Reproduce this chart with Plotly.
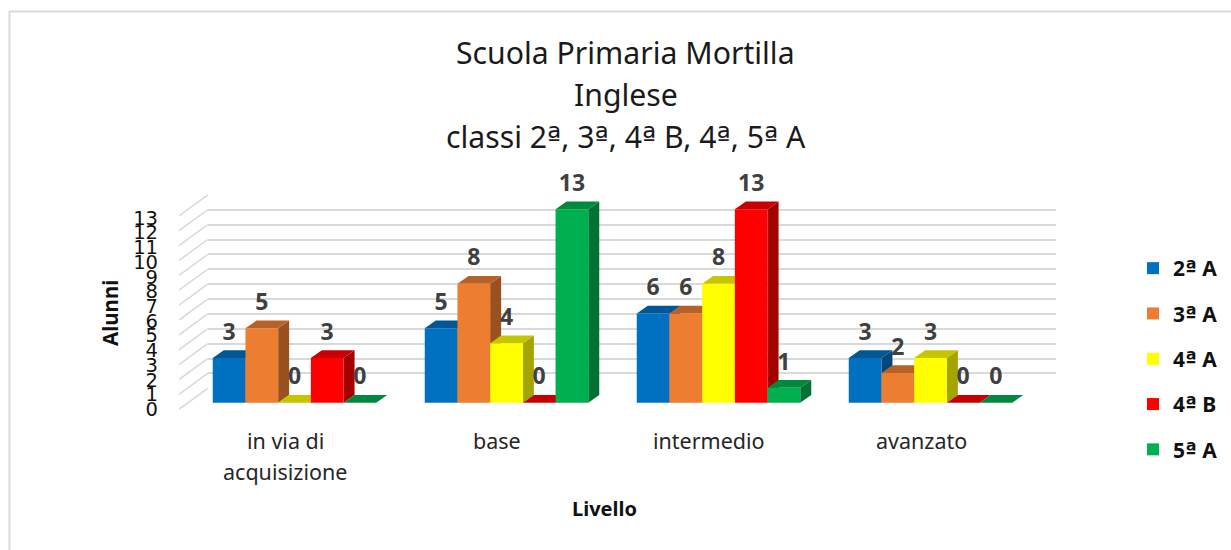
import plotly.graph_objects as go

categories = ["in via di\nacquisizione", "base", "intermedio", "avanzato"]
series_names = ["2ª A", "3ª A", "4ª A", "4ª B", "5ª A"]
v_2a = [3, 5, 6, 3]
v_3a = [5, 8, 6, 2]
v_4a = [0, 4, 8, 3]
v_4b = [3, 0, 13, 0]
v_5a = [0, 13, 1, 0]
values = [v_2a, v_3a, v_4a, v_4b, v_5a]
colors = ["#0070C0", "#ED7D31", "#FFFF00", "#FF0000", "#00B050"]
tick_values = list(range(14))
title_lines = ["Scuola Primaria Mortilla", "Inglese", "classi 2ª, 3ª, 4ª B, 4ª, 5ª A"]

FONT = "Noto Sans"
W, H = 1231, 550
GROUP_PX = 212.0
UNIT_PX = 14.88
FLOOR_PX, BAR0_PX, BACK0_PX = 409.3, 402.7, 388.3
TOP_PX = 170.0
TICK_NUDGE = 2.5
WALL_L, BACK_L, RIGHT = 179.0, 207.7, 1056.0
FIRST_CENTER = 285.0
BAR_W = 32.7 / GROUP_PX
GROUP_SHIFT = (294.5 - 285.0) / GROUP_PX
DX = 11.0 / GROUP_PX
DY = 7.7 / UNIT_PX
LABEL_DY = 24.0 / UNIT_PX


def shade(hex_color, f):
    r, g, b = (int(hex_color[i:i + 2], 16) for i in (1, 3, 5))
    return f"rgb({int(r * f)},{int(g * f)},{int(b * f)})"


def px(y):
    return 1 - y / H


def ord_span(text):
    # The reference draws the ordinal mark underlined; DejaVu Sans has that glyph.
    return text.replace("ª", "<span style=\"font-family:'DejaVu Sans'\">ª</span>")


fig = go.Figure()
x_left = (WALL_L - FIRST_CENTER) / GROUP_PX
x_right = (RIGHT - FIRST_CENTER) / GROUP_PX
y2_low = -(FLOOR_PX - BAR0_PX) / UNIT_PX
y2_high = (BAR0_PX - TOP_PX) / UNIT_PX
shapes = []

fig.add_trace(go.Scatter(x=[0], y=[0], xaxis="x", yaxis="y", mode="markers",
                         marker=dict(opacity=0), showlegend=False, hoverinfo="skip"))

for s, name in enumerate(series_names):
    xs = [i + GROUP_SHIFT + (s - 2) * BAR_W for i in range(len(categories))]
    fig.add_trace(go.Bar(x=xs, y=values[s], width=BAR_W, name=ord_span(name), xaxis="x2", yaxis="y2",
                         marker=dict(color=colors[s], line=dict(width=0)),
                         legendgroup=name))
    for x, v in zip(xs, values[s]):
        l, r = x - BAR_W / 2, x + BAR_W / 2
        side = f"M {r} 0 L {r + DX} {DY} L {r + DX} {v + DY} L {r} {v} Z"
        top = f"M {l} {v} L {l + DX} {v + DY} L {r + DX} {v + DY} L {r} {v} Z"
        for path, f in ((side, 0.65), (top, 0.78)):
            shapes.append(dict(type="path", path=path, xref="x2", yref="y2", layer="between",
                               fillcolor=shade(colors[s], f), line=dict(width=0)))

wall_x, wall_y = [], []
for t in tick_values:
    wall_x += [x_left, x_left + (BACK_L - WALL_L) / GROUP_PX, None]
    wall_y += [t + y2_low, t + (BAR0_PX - BACK0_PX) / UNIT_PX, None]
fig.add_trace(go.Scatter(x=wall_x, y=wall_y, xaxis="x2", yaxis="y2", mode="lines",
                         line=dict(color="#D9D9D9", width=1.5), showlegend=False, hoverinfo="skip"))

for s, name in enumerate(series_names):
    xs = [i + GROUP_SHIFT + (s - 2) * BAR_W for i in range(len(categories))]
    fig.add_trace(go.Scatter(x=xs, y=[v + LABEL_DY for v in values[s]], text=[str(v) for v in values[s]],
                             xaxis="x2", yaxis="y2", mode="text", textposition="middle center",
                             textfont=dict(family=FONT, size=23, color="#404040", weight="bold"),
                             cliponaxis=False, showlegend=False, hoverinfo="skip"))

annotations = []
for line, y in zip(title_lines, (53, 94, 136)):
    annotations.append(dict(text=ord_span(line), x=625.5 / W, y=px(y), xref="paper", yref="paper", showarrow=False,
                            xanchor="center", yanchor="middle", font=dict(family=FONT, size=30.2, color="#1a1a1a")))
for i, cat in enumerate(categories):
    lines = cat.split("\n")
    for j, line in enumerate(lines):
        annotations.append(dict(text=line, x=i, xref="x2", y=px(441 + 30 * j), yref="paper", showarrow=False,
                                xanchor="center", yanchor="middle", font=dict(family=FONT, size=21.5, color="#262626")))
annotations.append(dict(text="<b>Alunni</b>", x=110 / W, y=px(313), xref="paper", yref="paper", textangle=-90,
                        showarrow=False, xanchor="center", yanchor="middle", font=dict(family=FONT, size=20.5, color="#111111")))
annotations.append(dict(text="<b>Livello</b>", x=604 / W, y=px(508), xref="paper", yref="paper",
                        showarrow=False, xanchor="center", yanchor="middle", font=dict(family=FONT, size=20, color="#111111")))

for x0, x1, y0, y1 in ((9.5, 9.5, 11, 550), (9.5, 1231, 11.5, 11.5)):
    shapes.append(dict(type="line", xref="paper", yref="paper", x0=x0 / W, x1=x1 / W, y0=px(y0), y1=px(y1),
                       line=dict(color="#D9D9D9", width=2), layer="below"))

fig.update_layout(
    width=W, height=H, margin=dict(l=0, r=0, t=0, b=0), paper_bgcolor="white", plot_bgcolor="rgba(0,0,0,0)",
    barmode="overlay", showlegend=True, shapes=shapes, annotations=annotations,
    legend=dict(x=1133 / W, y=px(248), xanchor="left", yanchor="top", traceorder="grouped", tracegroupgap=15,
                font=dict(family=FONT, size=21, color="#111111", weight="bold"), bgcolor="rgba(0,0,0,0)"),
    xaxis=dict(domain=[BACK_L / W, RIGHT / W], range=[0, 1], visible=False, showgrid=False, zeroline=False),
    yaxis=dict(domain=[px(BACK0_PX), px(BACK0_PX - 13 * UNIT_PX)], range=[0, 13], tickvals=tick_values,
               showgrid=True, gridcolor="#D9D9D9", gridwidth=2, zeroline=False, showticklabels=False,
               showline=False, ticks="", anchor="x", automargin=False),
    xaxis2=dict(domain=[WALL_L / W, RIGHT / W], range=[x_left, x_right], showgrid=False, zeroline=False,
                showticklabels=False, ticks="", showline=False, anchor="y2", automargin=False),
    yaxis2=dict(domain=[px(FLOOR_PX), px(TOP_PX)], range=[y2_low, y2_high], showgrid=False, zeroline=False,
                showticklabels=False, ticks="", showline=False, anchor="x2", automargin=False),
    yaxis3=dict(domain=[px(FLOOR_PX + TICK_NUDGE), px(TOP_PX)],
                range=[0, (FLOOR_PX + TICK_NUDGE - TOP_PX) / UNIT_PX], overlaying="y2",
                anchor="x2", side="left", tickvals=tick_values, showgrid=False, zeroline=False, showline=False,
                ticks="", ticklabelstandoff=20, automargin=False,
                tickfont=dict(family="DejaVu Sans", size=19.5, color="#111111")),
)
fig.add_trace(go.Scatter(x=[0], y=[0], xaxis="x2", yaxis="y3", mode="markers", marker=dict(opacity=0),
                         showlegend=False, hoverinfo="skip"))

fig.write_html("out.html", config=dict(displayModeBar=False),
               post_script="document.body.style.margin='0';document.documentElement.style.overflow='hidden';")
